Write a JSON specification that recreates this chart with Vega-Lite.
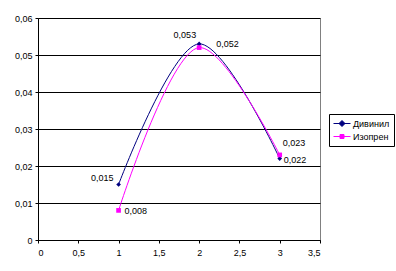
{
  "$schema": "https://vega.github.io/schema/vega-lite/v6.json",
  "width": 282,
  "height": 222,
  "autosize": {"type": "none"},
  "padding": {"left": 38, "top": 18, "right": 76, "bottom": 31},
  "background": "white",
  "config": {
    "locale": {"number": {"decimal": ",", "thousands": " ", "grouping": [3], "currency": ["", ""]}},
    "font": "Liberation Sans",
    "view": {"stroke": "#808080", "strokeWidth": 1},
    "axis": {
      "labelFont": "Liberation Sans",
      "labelFontSize": 9,
      "labelColor": "black",
      "domainColor": "black",
      "tickColor": "black",
      "tickSize": 3,
      "title": null
    },
    "text": {"font": "Liberation Sans", "fontSize": 9, "color": "black"}
  },
  "data": {
    "values": [
      {"series": "Дивинил", "x": 1, "y": 0.015},
      {"series": "Дивинил", "x": 2, "y": 0.053},
      {"series": "Дивинил", "x": 3, "y": 0.022},
      {"series": "Изопрен", "x": 1, "y": 0.008},
      {"series": "Изопрен", "x": 2, "y": 0.052},
      {"series": "Изопрен", "x": 3, "y": 0.023}
    ]
  },
  "encoding": {
    "x": {
      "field": "x", "type": "quantitative",
      "scale": {"domain": [0, 3.5], "nice": false},
      "axis": {"values": [0, 0.5, 1, 1.5, 2, 2.5, 3, 3.5], "format": "~g", "grid": false, "labelPadding": 5}
    },
    "y": {
      "field": "y", "type": "quantitative",
      "scale": {"domain": [0, 0.06], "nice": false},
      "axis": {"values": [0, 0.01, 0.02, 0.03, 0.04, 0.05, 0.06], "format": "~g", "grid": true, "gridColor": "black", "gridOpacity": 1, "labelPadding": 3}
    }
  },
  "layer": [
    {
      "mark": {"type": "line", "interpolate": "catmull-rom", "strokeWidth": 1},
      "encoding": {
        "color": {
          "field": "series", "type": "nominal",
          "scale": {"domain": ["Дивинил", "Изопрен"], "range": ["#000080", "#FF00FF"]},
          "legend": {
            "title": null, "orient": "none", "legendX": 291, "legendY": 96,
            "strokeColor": "black", "padding": 4, "labelFontSize": 9, "labelFont": "Liberation Sans",
            "labelColor": "black", "symbolSize": 100, "rowPadding": 2, "symbolStrokeWidth": 1,
            "labelOffset": 9,
            "encode": {
              "symbols": {
                "update": {
                  "shape": {"signal": "datum.value === 'Дивинил' ? 'M-1,0H2.4M0.7,-0.6L1.3,0L0.7,0.6L0.1,0Z' : 'M-1,0H2.4M0.3,-0.4H1.1V0.4H0.3Z'"},
                  "fill": {"signal": "datum.value === 'Дивинил' ? '#000080' : '#FF00FF'"},
                  "fillOpacity": {"value": 1}
                }
              }
            }
          }
        }
      }
    },
    {
      "transform": [{"filter": "datum.series === 'Дивинил'"}],
      "mark": {"type": "point", "filled": true, "size": 22, "opacity": 1, "shape": "diamond"},
      "encoding": {"color": {"field": "series", "type": "nominal"}}
    },
    {
      "transform": [{"filter": "datum.series === 'Изопрен'"}],
      "mark": {"type": "point", "filled": true, "size": 22, "opacity": 1, "shape": "square"},
      "encoding": {"color": {"field": "series", "type": "nominal"}}
    },
    {
      "transform": [{"filter": "datum.series === 'Дивинил' && datum.x === 1"}],
      "mark": {"type": "text", "align": "right", "baseline": "middle", "dx": -5, "dy": -7},
      "encoding": {"text": {"field": "y", "type": "quantitative", "format": ".3f"}}
    },
    {
      "transform": [{"filter": "datum.series === 'Дивинил' && datum.x === 2"}],
      "mark": {"type": "text", "align": "right", "baseline": "middle", "dx": -3, "dy": -9},
      "encoding": {"text": {"field": "y", "type": "quantitative", "format": ".3f"}}
    },
    {
      "transform": [{"filter": "datum.series === 'Дивинил' && datum.x === 3"}],
      "mark": {"type": "text", "align": "left", "baseline": "middle", "dx": 4, "dy": 1},
      "encoding": {"text": {"field": "y", "type": "quantitative", "format": ".3f"}}
    },
    {
      "transform": [{"filter": "datum.series === 'Изопрен' && datum.x === 1"}],
      "mark": {"type": "text", "align": "left", "baseline": "middle", "dx": 6, "dy": 1},
      "encoding": {"text": {"field": "y", "type": "quantitative", "format": ".3f"}}
    },
    {
      "transform": [{"filter": "datum.series === 'Изопрен' && datum.x === 2"}],
      "mark": {"type": "text", "align": "left", "baseline": "middle", "dx": 17, "dy": -4},
      "encoding": {"text": {"field": "y", "type": "quantitative", "format": ".3f"}}
    },
    {
      "transform": [{"filter": "datum.series === 'Изопрен' && datum.x === 3"}],
      "mark": {"type": "text", "align": "left", "baseline": "middle", "dx": 3, "dy": -12},
      "encoding": {"text": {"field": "y", "type": "quantitative", "format": ".3f"}}
    }
  ]
}
